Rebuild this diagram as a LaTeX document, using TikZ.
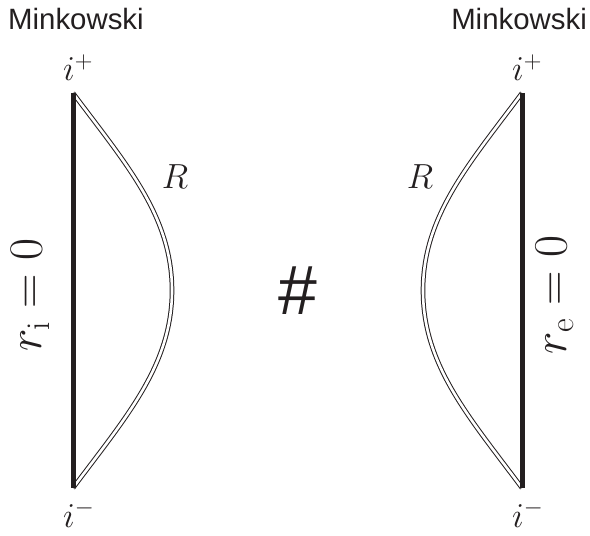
\RequirePackage{fix-cm}
\documentclass[tikz,border=0pt]{standalone}
\usepackage{fontspec}
\newfontfamily\labelsans{Liberation Sans}
\definecolor{ink}{RGB}{35,31,32}
\begin{document}
\begin{tikzpicture}[x=1bp,y=-1bp,
  title/.style={font=\labelsans\fontsize{29.5}{32}\selectfont, inner sep=0pt, text=ink},
  pt/.style={font=\fontsize{35}{40}\selectfont, inner sep=0pt, text=ink},
  axis/.style={font=\fontsize{48}{52}\selectfont, inner sep=0pt, rotate=90, text=ink},
  origin/.style={draw=ink, line width=5bp},
  boundary/.style={draw=ink, line width=1bp, double=white, double distance=2.6bp}]
\useasboundingbox (0,0) rectangle (590,536);
% left diagram
\coordinate (LT) at (73,93);
\coordinate (LB) at (73,488);
\coordinate (LM) at (172,290.5);
\draw[boundary] (LT) .. controls (125,163) and (172,215) .. (LM)
                     .. controls (172,366) and (125,418) .. (LB);
\draw[origin] (LT) -- (LB);
\node[title, anchor=base west] (minkL) at (8,30) {Minkowski};
\node[pt, anchor=base west] (ipL) at (63,81) {$i^+$};
\node[pt, anchor=base west] (imL) at (63,527) {$i^-$};
\node[pt] (RL) at (175,177) {$R$};
\node[axis] (riL) at (30,295) {$r_{\mathrm{i}}=0$};
% connected sum
\node[font=\labelsans\fontsize{70}{72}\selectfont, inner sep=0pt, text=ink] (hash) at (298,291) {\#};
% right diagram
\coordinate (RT) at (522,93);
\coordinate (RB) at (522,488);
\coordinate (RM) at (423,290.5);
\draw[boundary] (RT) .. controls (470,163) and (423,215) .. (RM)
                     .. controls (423,366) and (470,418) .. (RB);
\draw[origin] (RT) -- (RB);
\node[title, anchor=base east] (minkR) at (587,30) {Minkowski};
\node[pt, anchor=base west] (ipR) at (512,81) {$i^+$};
\node[pt, anchor=base west] (imR) at (512,527) {$i^-$};
\node[pt] (RR) at (420,177) {$R$};
\node[axis] (reR) at (555,295) {$r_{\mathrm{e}}=0$};
\end{tikzpicture}
\end{document}
